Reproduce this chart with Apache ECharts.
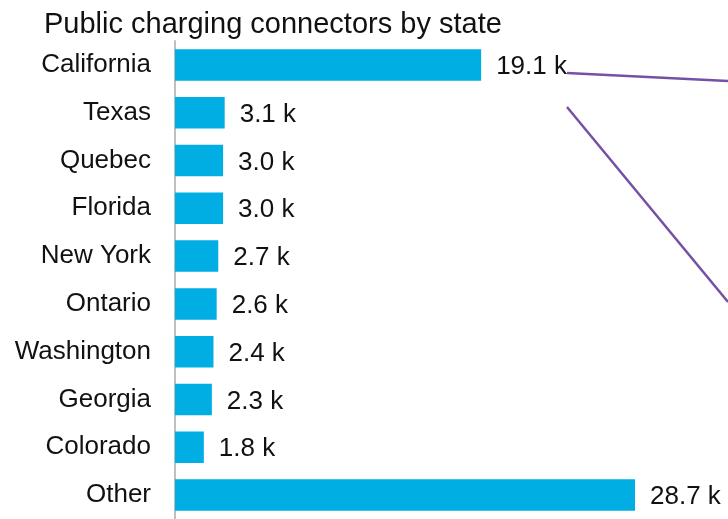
<!DOCTYPE html>
<html>
<head>
<meta charset="utf-8">
<script src="https://cdn.jsdelivr.net/npm/echarts@6/dist/echarts.min.js"></script>
<style>
  html, body { margin: 0; padding: 0; background: #fff; }
  #chart { width: 728px; height: 519px; }
</style>
</head>
<body>
<div id="chart"></div>
<script>
// connectors, thousands
const states = ['California', 'Texas', 'Quebec', 'Florida', 'New York', 'Ontario', 'Washington', 'Georgia', 'Colorado', 'Other'];
const connectors = [19.1, 3.1, 3.0, 3.0, 2.7, 2.6, 2.4, 2.3, 1.8, 28.7];

const font = '"Liberation Sans", Arial, sans-serif';
const myChart = echarts.init(document.getElementById('chart'));

myChart.setOption({
  animation: false,
  title: {
    text: 'Public charging connectors by state',
    left: 39,
    top: 5,
    textStyle: { fontFamily: font, fontSize: 29, fontWeight: 'normal', color: '#111' },
  },
  grid: { left: 175, right: 0, top: 41, bottom: -4 },
  xAxis: {
    type: 'value',
    min: 0,
    max: 34.5,
    show: false,
  },
  yAxis: {
    type: 'category',
    data: states,
    inverse: true,
    axisTick: { show: false },
    axisLine: { lineStyle: { color: '#bfbfbf', width: 2 } },
    axisLabel: { fontFamily: font, fontSize: 26, color: '#111', margin: 24 },
  },
  series: [
    {
      type: 'bar',
      data: connectors,
      barCategoryGap: '34%',
      itemStyle: { color: '#00aee3' },
      label: {
        show: true,
        position: 'right',
        distance: 15,
        offset: [0, 2],
        fontFamily: font,
        fontSize: 26,
        color: '#111',
        formatter: p => p.value.toFixed(1) + ' k',
      },
    },
  ],
  // callout connectors leading off to the right
  graphic: [
    { type: 'line', shape: { x1: 567, y1: 73, x2: 728, y2: 81 }, style: { stroke: '#7451a6', lineWidth: 2.5 } },
    { type: 'line', shape: { x1: 567, y1: 107, x2: 728, y2: 302 }, style: { stroke: '#7451a6', lineWidth: 2.5 } },
  ],
});
</script>
</body>
</html>
